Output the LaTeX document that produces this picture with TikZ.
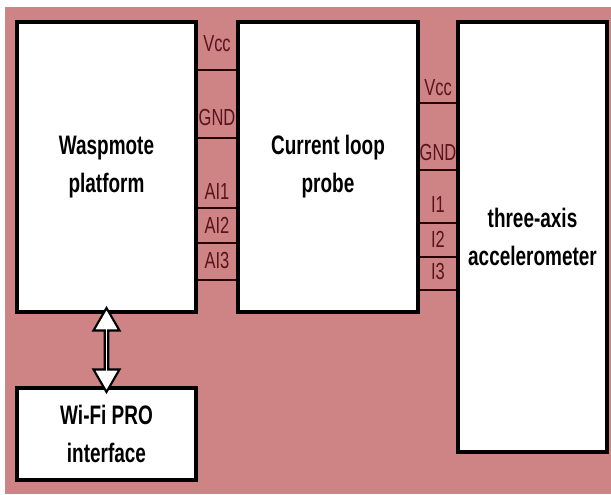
\documentclass[tikz,border=0pt]{standalone}
\usepackage{fontspec}
\newfontfamily\narrowsans[FakeStretch=0.71]{Liberation Sans}
\usetikzlibrary{shapes.arrows,calc}
\definecolor{bgpink}{RGB}{206,131,133}
\definecolor{pintext}{RGB}{88,20,26}
\newcommand{\px}{0.025cm}

\begin{document}
\begin{tikzpicture}[x=0.025cm, y=-0.025cm,
    block/.style={shape=rectangle, draw, line width=3pt, fill=white, align=center, inner sep=0pt, font=\narrowsans\bfseries\fontsize{19}{27}\selectfont},
    pin/.style={anchor=center, inner sep=0pt, text=pintext, font=\narrowsans\fontsize{16.5}{18}\selectfont},
    pinline/.style={line width=2pt, draw=black!85!red},
    link/.style={double arrow, draw, line width=1.5pt, fill=white, inner sep=0pt, rotate=90, minimum height=84*\px, minimum width=26*\px, double arrow head extend=7*\px, double arrow tip angle=60}]
    \useasboundingbox (0,0) rectangle (611,494);
    \fill[bgpink] (5,7) rectangle (611,494);
    % Boxes, pins and wires:
    \node[block, minimum width=179*\px, minimum height=290*\px] (wasp) at (106.5, 167) {Waspmote\\platform};
    \node[block, minimum width=180*\px, minimum height=290*\px] (probe) at (328, 167) {Current loop\\probe};
    \node[block, minimum width=149*\px, minimum height=430*\px] (accel) at (532.5, 237) {three-axis\\accelerometer};
    \node[block, minimum width=179*\px, minimum height=92*\px] (wifi) at (106.5, 434) {Wi-Fi PRO\\interface};
    \foreach \yy in {70,138,208,243,280} \draw[pinline] (wasp.east |- 0,\yy) -- (probe.west |- 0,\yy);
    \foreach \yy in {103,170,223,257,290} \draw[pinline] (probe.east |- 0,\yy) -- (accel.west |- 0,\yy);
    \node[pin] (lvcc) at (217, 44) {Vcc};
    \node[pin] (lgnd) at (217, 118) {GND};
    \node[pin] (lai1) at (217, 192) {AI1};
    \node[pin] (lai2) at (217, 225) {AI2};
    \node[pin] (lai3) at (217, 261) {AI3};
    \node[pin] (rvcc) at (438, 88) {Vcc};
    \node[pin] (rgnd) at (438, 153) {GND};
    \node[pin] (ri1) at (438, 205) {I1};
    \node[pin] (ri2) at (438, 239) {I2};
    \node[pin] (ri3) at (438, 272) {I3};
    \node[link] (wlink) at ($(wasp.south)!0.5!(wifi.north)$) {};
\end{tikzpicture}
\end{document}
